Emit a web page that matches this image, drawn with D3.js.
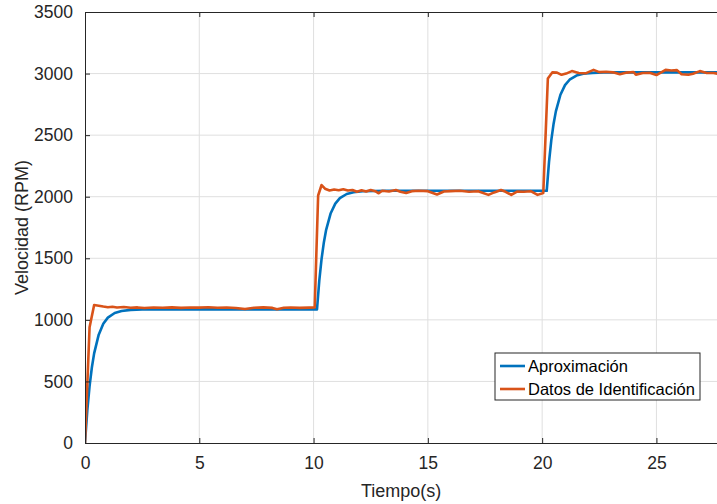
<!DOCTYPE html>
<html>
<head>
<meta charset="utf-8">
<script src="https://cdn.jsdelivr.net/npm/d3@7"></script>
<style>
  body { margin: 0; background: #fff; }
  svg { display: block; font-family: "Liberation Sans", Arial, sans-serif; }
</style>
</head>
<body>
<div id="chart"></div>
<script>
// Aproximación (modelo de primer orden)
let aproxT = [0, 0.1, 0.2, 0.3, 0.4, 0.6, 0.8, 1.0, 1.3, 1.6, 2.0, 2.5, 3.0,
  10.15, 10.25, 10.35, 10.45, 10.55, 10.75, 10.95, 11.15, 11.45, 11.75, 12.15, 12.65, 13.15,
  20.2, 20.3, 20.4, 20.5, 20.6, 20.8, 21.0, 21.2, 21.5, 21.8, 22.2, 22.7, 23.2, 27.7]
let aproxV = [0, 263, 462, 613, 728, 880, 968, 1018, 1056, 1072, 1081, 1084, 1085,
  1085, 1318, 1495, 1629, 1731, 1866, 1944, 1988, 2022, 2036, 2044, 2047, 2048,
  2048, 2281, 2458, 2591, 2693, 2828, 2906, 2950, 2984, 2998, 3006, 3009, 3010, 3010]

// Datos de Identificación (medidos)
let datosT = [0, 0.2, 0.4, 0.6, 0.8, 1.0, 1.2, 1.4, 1.7, 2.0, 2.3, 2.6, 3.0, 3.4, 3.8, 4.2, 4.6,
  5.0, 5.4, 5.8, 6.2, 6.6, 7.0, 7.4, 7.8, 8.2, 8.4, 8.7, 9.0, 9.4, 9.8, 10.05,
  10.2, 10.35, 10.5, 10.7, 10.9, 11.1, 11.3, 11.5, 11.7, 11.9, 12.1, 12.3, 12.5, 12.7, 12.85,
  13.0, 13.3, 13.6, 13.8, 14.05, 14.3, 14.6, 15.0, 15.4, 15.7, 16.0, 16.4, 16.8, 17.2, 17.65,
  17.9, 18.2, 18.4, 18.65, 18.9, 19.2, 19.5, 19.8, 20.05,
  20.25, 20.45, 20.65, 20.85, 21.05, 21.3, 21.6, 21.9, 22.25, 22.5, 22.8, 23.1, 23.4, 23.7,
  24.0, 24.1, 24.4, 24.7, 25.0, 25.4, 25.65, 25.9, 26.1, 26.4, 26.6, 26.9, 27.2, 27.5, 27.7]
let datosV = [0, 940, 1120, 1115, 1108, 1103, 1106, 1100, 1104, 1098, 1101, 1096, 1100, 1098, 1101, 1097, 1100,
  1099, 1102, 1098, 1100, 1096, 1088, 1098, 1101, 1097, 1086, 1098, 1100, 1097, 1099, 1100,
  2010, 2095, 2065, 2050, 2058, 2052, 2060, 2050, 2055, 2040, 2052, 2042, 2055, 2045, 2028,
  2048, 2042, 2055, 2040, 2030, 2045, 2048, 2045, 2018, 2042, 2045, 2048, 2040, 2045, 2015,
  2035, 2055, 2040, 2015, 2042, 2040, 2045, 2015, 2030,
  2960, 3010, 3008, 2990, 3000, 3020, 3005, 3002, 3030, 3012, 3015, 3010, 2995, 3008,
  3013, 2990, 3005, 3006, 2988, 3030, 3025, 3028, 2995, 2990, 2998, 3020, 3005, 3005, 2998]

let xTicks = [0, 5, 10, 15, 20, 25]
let yTicks = [0, 500, 1000, 1500, 2000, 2500, 3000, 3500]
let legendNames = ["Aproximación", "Datos de Identificación"]
let colors = ["#0072BD", "#D95319"]

let width = 717, height = 504
let margin = {top: 12, right: 0, bottom: 61, left: 85}
let w = width - margin.left - margin.right
let h = height - margin.top - margin.bottom
let axisColor = "#262626"

let svg = d3.select('#chart')
  .append('svg')
  .attr('width', width)
  .attr('height', height)

let g = svg.append('g')
  .attr('transform', "translate(" + margin.left + "," + margin.top + ")")

let x = d3.scaleLinear().domain([0, 27.65]).range([0, w])
let y = d3.scaleLinear().domain([0, 3500]).range([h, 0])

// grid
g.append('g').selectAll('line.gx')
  .data(xTicks.slice(1))
  .enter().append('line')
  .attr('x1', d => x(d)).attr('x2', d => x(d))
  .attr('y1', 0).attr('y2', h)
  .attr('stroke', '#dfdfdf').attr('stroke-width', 1)
g.append('g').selectAll('line.gy')
  .data(yTicks.slice(1, -1))
  .enter().append('line')
  .attr('x1', 0).attr('x2', w)
  .attr('y1', d => y(d)).attr('y2', d => y(d))
  .attr('stroke', '#dfdfdf').attr('stroke-width', 1)

// lines
let clip = g.append('clipPath').attr('id', 'clip')
  .append('rect').attr('width', w).attr('height', h + 2).attr('y', -1)

let series = [
  aproxT.map((t, i) => [t, aproxV[i]]),
  datosT.map((t, i) => [t, datosV[i]])
]
let line = d3.line().x(d => x(d[0])).y(d => y(d[1]))

series.forEach(function(s, i) {
  g.append('path')
    .datum(s)
    .attr('clip-path', 'url(#clip)')
    .attr('fill', 'none')
    .attr('stroke', colors[i])
    .attr('stroke-width', 2.6)
    .attr('stroke-linejoin', 'round')
    .attr('d', line)
})

// axes (MATLAB style: ticks inside)
let xAxis = g.append('g')
  .attr('transform', "translate(0," + h + ")")
  .call(d3.axisBottom(x).tickValues(xTicks).tickSizeInner(-5).tickSizeOuter(0).tickPadding(14))
let xTop = g.append('g')
  .call(d3.axisTop(x).tickValues(xTicks).tickSizeInner(-5).tickSizeOuter(0).tickFormat(''))
let yAxis = g.append('g')
  .call(d3.axisLeft(y).tickValues(yTicks).tickFormat(d3.format('d')).tickSizeInner(-5).tickSizeOuter(0).tickPadding(12))

;[xAxis, xTop, yAxis].forEach(function(a) {
  a.select('.domain').attr('stroke', axisColor).attr('stroke-width', 1)
  a.selectAll('.tick line').attr('stroke', axisColor)
  a.selectAll('.tick text').attr('fill', axisColor).style('font-size', '17.5px')
    .style('font-family', '"Liberation Sans", Arial, sans-serif')
})

// axis labels
svg.append('text')
  .attr('x', margin.left + x(13.83))
  .attr('y', 497)
  .attr('text-anchor', 'middle')
  .attr('fill', axisColor)
  .style('font-size', '18px')
  .text('Tiempo(s)')

svg.append('text')
  .attr('transform', "translate(28," + (margin.top + h / 2) + ") rotate(-90)")
  .attr('text-anchor', 'middle')
  .attr('fill', axisColor)
  .style('font-size', '18px')
  .text('Velocidad (RPM)')

// legend
let lg = svg.append('g').attr('transform', 'translate(495,353)')
lg.append('rect')
  .attr('width', 205).attr('height', 47)
  .attr('fill', '#fff').attr('stroke', axisColor).attr('stroke-width', 1)
legendNames.forEach(function(name, i) {
  let yy = 13 + i * 23
  lg.append('line')
    .attr('x1', 5).attr('x2', 30)
    .attr('y1', yy).attr('y2', yy)
    .attr('stroke', colors[i]).attr('stroke-width', 2.6)
  lg.append('text')
    .attr('x', 33).attr('y', yy + 6)
    .attr('fill', '#000')
    .style('font-size', '16.5px')
    .text(name)
})
</script>
</body>
</html>
